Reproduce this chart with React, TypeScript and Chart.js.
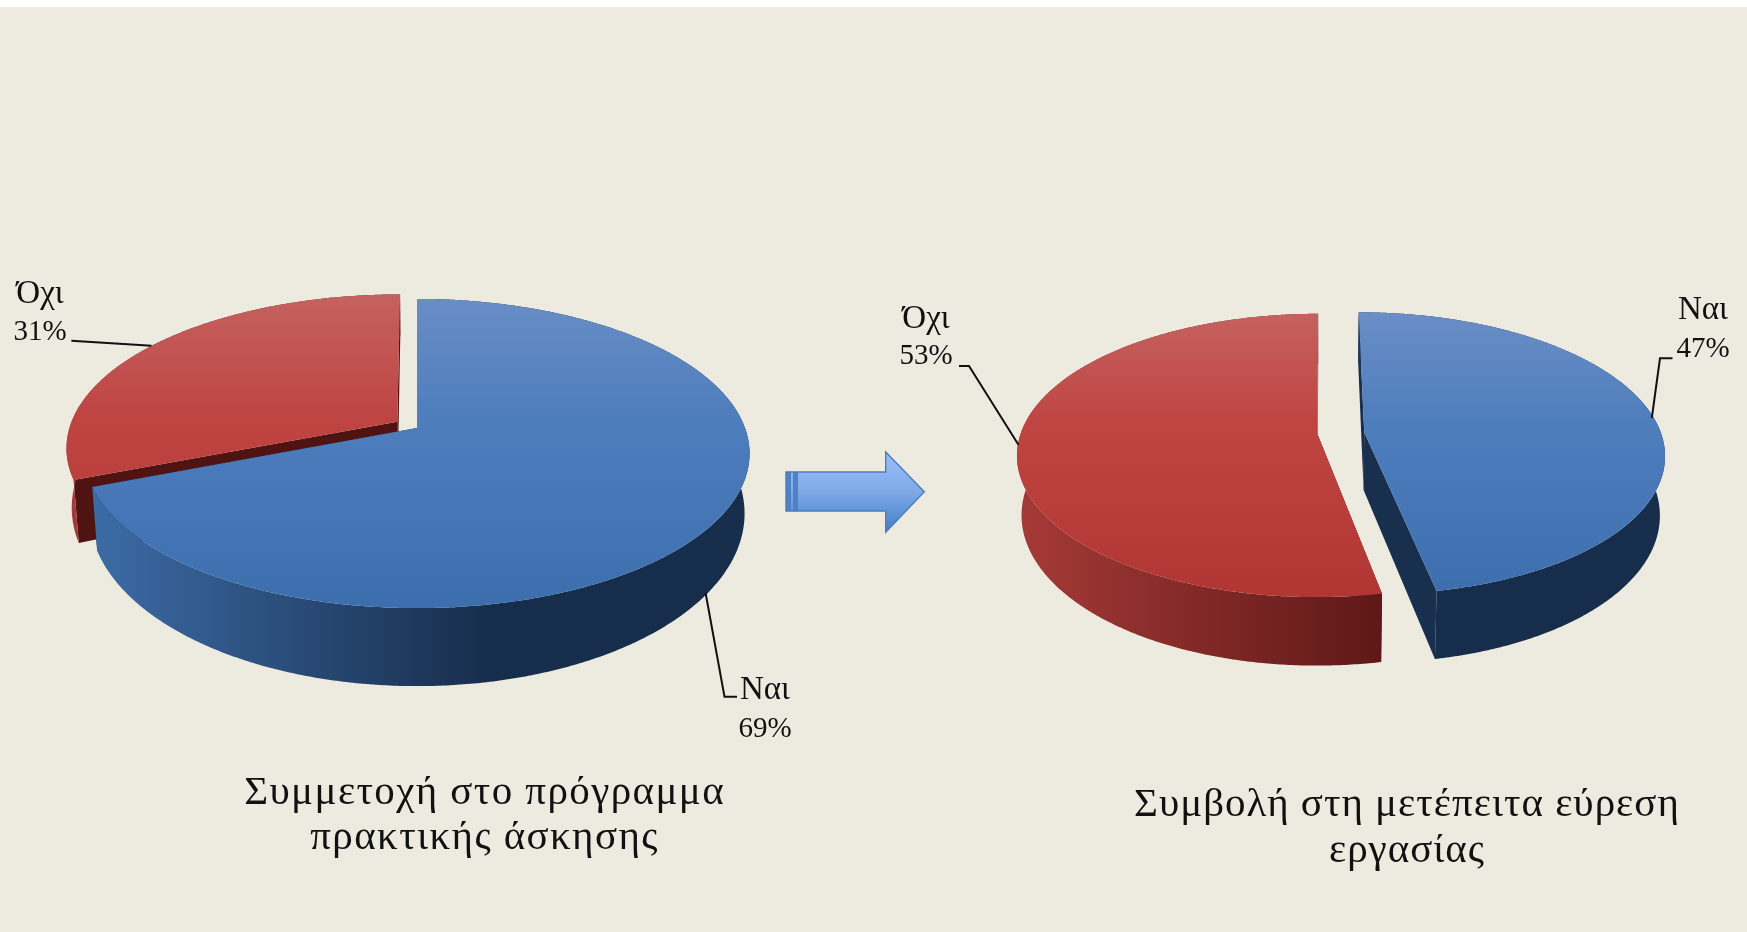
import React, { useEffect, useRef } from "react";
import { Chart, registerables } from "chart.js";

Chart.register(...registerables);

const categories = ["Ναι", "Όχι"];
const participationValues = [69, 31];
const contributionValues = [47, 53];
const participationTitle = ["Συμμετοχή στο πρόγραμμα", "πρακτικής άσκησης"];
const contributionTitle = ["Συμβολή στη μετέπειτα εύρεση", "εργασίας"];

const W = 1747;
const H = 932;
const FONT = '"Liberation Serif", serif';
const BG = "#EDEBE0";

type Pie3D = {
  vpx: number; y0: number; squash: number; p: number;
  y1: number; squashB: number; sB: number;
  radius: number; offset: number[];
  xRange: number[]; yRange: number[];
  title: string[]; titleX: number; titleY: number[]; titleSize: number; titleSpacing: number;
  labels: { x: number; y: number[] }[];
  leaders: number[][][];
  arrow?: boolean;
};

const leftPie: Pie3D = {
  vpx: 417, y0: 428, squash: 0.4585, p: 0.165,
  y1: 485, squashB: 0.512, sB: 0.985,
  radius: 328, offset: [0, 96],
  xRange: [65, 747], yRange: [295, 608],
  title: participationTitle, titleX: 484.6, titleY: [793, 838], titleSize: 41, titleSpacing: 1.4,
  labels: [{ x: 765, y: [690, 729] }, { x: 40, y: [294, 332] }],
  leaders: [
    [[705.6, 593], [724.5, 696.7], [737, 696.7]],
    [[71.4, 340.7], [151.5, 345.7]],
  ],
  arrow: true,
};

const rightPie: Pie3D = {
  vpx: 1322, y0: 434, squash: 0.466, p: 0.15,
  y1: 492, squashB: 0.496, sB: 0.985,
  radius: 297, offset: [170, 18],
  xRange: [1018, 1664], yRange: [313, 596],
  title: contributionTitle, titleX: 1407, titleY: [805, 851], titleSize: 41, titleSpacing: 1.0,
  labels: [{ x: 1703, y: [310, 349] }, { x: 926, y: [319, 356.5] }],
  leaders: [
    [[1672.5, 358.3], [1660, 358.3], [1651.8, 418]],
    [[959, 366], [969, 366], [1018.6, 445]],
  ],
};

const topColors = [
  ["#6A8EC6", "#4F7EBD", "#3C6EAE"],
  ["#C5625F", "#BF4543", "#B13633"],
];
const sideColors = [
  ["#3F70AC", "#172D4C"],
  ["#A53A37", "#571514"],
];
const cutColors = ["#182F4E", "#4F1412"];

function drawArrow(ctx: CanvasRenderingContext2D) {
  const g = ctx.createLinearGradient(0, 452, 0, 532);
  g.addColorStop(0, "#9BC0FB");
  g.addColorStop(0.5, "#7FA9E8");
  g.addColorStop(1, "#437FC4");
  ctx.beginPath();
  ctx.moveTo(786, 472);
  ctx.lineTo(885.7, 472);
  ctx.lineTo(885.7, 452);
  ctx.lineTo(924.3, 491.7);
  ctx.lineTo(885.7, 532.3);
  ctx.lineTo(885.7, 511);
  ctx.lineTo(786, 511);
  ctx.closePath();
  ctx.fillStyle = g;
  ctx.fill();
  ctx.fillStyle = "#4F81C4";
  ctx.fillRect(786, 472, 5, 39);
  ctx.fillRect(793, 472, 5, 39);
  ctx.strokeStyle = "#4A7EBE";
  ctx.lineWidth = 1.4;
  ctx.stroke();
}

const pie3dPlugin = {
  id: "pie3d",
  beforeDatasetsDraw(chart: any, _args: any, opts: any) {
    const cfg: Pie3D = opts.cfg;
    const ctx: CanvasRenderingContext2D = chart.ctx;
    const arcs = chart.getDatasetMeta(0).data;

    const top = (dx: number, dy: number) => {
      const w = 1 - (cfg.p * dy) / cfg.radius;
      return [cfg.vpx + dx / w, cfg.y0 + (dy * cfg.squash) / w];
    };
    const bottom = (dx: number, dy: number) => {
      const w = 1 - (cfg.p * dy) / cfg.radius;
      return [cfg.vpx + (cfg.sB * dx) / w, cfg.y1 + (dy * cfg.squashB) / w];
    };
    const poly = (pts: number[][], fill: any) => {
      ctx.beginPath();
      pts.forEach((q, i) => (i ? ctx.lineTo(q[0], q[1]) : ctx.moveTo(q[0], q[1])));
      ctx.closePath();
      ctx.fillStyle = fill;
      ctx.fill();
    };

    // far slice first: later slices sit in front
    const order = cfg.arrow ? [1, 0] : [0, 1];
    ctx.save();
    order.forEach((i: number) => {
      const arc = arcs[i];
      const { x, y, startAngle, endAngle, outerRadius } = arc.getProps([
        "x", "y", "startAngle", "endAngle", "outerRadius",
      ]);
      const mid = (startAngle + endAngle) / 2;
      const off = (arc.options.offset || 0) / 4;
      const ox = x + Math.cos(mid) * off - chart.width / 2;
      const oy = y + Math.sin(mid) * off - chart.height / 2;
      const steps = Math.ceil(((endAngle - startAngle) * 180) / Math.PI) * 2;
      const rimT: number[][] = [];
      const rimB: number[][] = [];
      for (let k = 0; k <= steps; k++) {
        const a = startAngle + ((endAngle - startAngle) * k) / steps;
        const dx = ox + Math.cos(a) * outerRadius;
        const dy = oy + Math.sin(a) * outerRadius;
        rimT.push(top(dx, dy));
        rimB.push(bottom(dx, dy));
      }
      const apexT = top(ox, oy);
      const apexB = bottom(ox, oy);

      // cut faces
      poly([apexT, rimT[0], rimB[0], apexB], cutColors[i]);
      poly([apexT, rimT[steps], rimB[steps], apexB], cutColors[i]);

      // outer wall
      const sg = ctx.createLinearGradient(cfg.xRange[0], 0, cfg.xRange[1], 0);
      sg.addColorStop(0, sideColors[i][0]);
      sg.addColorStop(0.62, sideColors[i][1]);
      sg.addColorStop(1, sideColors[i][1]);
      poly([...rimT, ...rimB.slice().reverse()], sg);

      // top face
      const tg = ctx.createLinearGradient(0, cfg.yRange[0], 0, cfg.yRange[1]);
      tg.addColorStop(0, topColors[i][0]);
      tg.addColorStop(0.38, topColors[i][1]);
      tg.addColorStop(1, topColors[i][2]);
      poly([apexT, ...rimT], tg);
    });

    // leader lines
    ctx.strokeStyle = "#111";
    ctx.lineWidth = 2;
    cfg.leaders.forEach((line) => {
      ctx.beginPath();
      line.forEach((q, k) => (k ? ctx.lineTo(q[0], q[1]) : ctx.moveTo(q[0], q[1])));
      ctx.stroke();
    });

    // slice labels
    const labels: string[] = chart.data.labels;
    const values: number[] = chart.data.datasets[0].data;
    ctx.fillStyle = "#111";
    ctx.textAlign = "center";
    ctx.textBaseline = "middle";
    labels.forEach((name, i) => {
      ctx.font = `33px ${FONT}`;
      ctx.fillText(name, cfg.labels[i].x, cfg.labels[i].y[0]);
      ctx.font = `29px ${FONT}`;
      ctx.fillText(`${values[i]}%`, cfg.labels[i].x, cfg.labels[i].y[1]);
    });

    // caption
    ctx.font = `${cfg.titleSize}px ${FONT}`;
    (ctx as any).letterSpacing = `${cfg.titleSpacing}px`;
    cfg.title.forEach((t, i) => ctx.fillText(t, cfg.titleX, cfg.titleY[i]));
    (ctx as any).letterSpacing = "0px";

    if (cfg.arrow) drawArrow(ctx);
    ctx.restore();
    return false;
  },
};

function PieCanvas({ values, cfg }: { values: number[]; cfg: Pie3D }) {
  const ref = useRef<HTMLCanvasElement>(null);
  useEffect(() => {
    const chart = new Chart(ref.current as HTMLCanvasElement, {
      type: "pie",
      data: {
        labels: categories,
        datasets: [{
          data: values,
          backgroundColor: [topColors[0][1], topColors[1][1]],
          borderWidth: 0,
          offset: cfg.offset,
        } as any],
      },
      options: {
        animation: false,
        responsive: false,
        radius: cfg.radius,
        rotation: 0,
        events: [],
        layout: { padding: 0 },
        plugins: {
          legend: { display: false },
          tooltip: { enabled: false },
          pie3d: { cfg },
        } as any,
      } as any,
      plugins: [pie3dPlugin as any],
    });
    return () => chart.destroy();
  }, [values, cfg]);
  return (
    <canvas
      ref={ref}
      width={W}
      height={H}
      style={{ position: "absolute", left: 0, top: 0, width: W, height: H }}
    />
  );
}

export default function App() {
  return (
    <div style={{ position: "fixed", left: 0, top: 0, width: W, height: H, background: "#fff", overflow: "hidden" }}>
      <div style={{ position: "absolute", left: 0, top: 7, width: W, height: H - 7, background: BG }} />
      <PieCanvas values={participationValues} cfg={leftPie} />
      <PieCanvas values={contributionValues} cfg={rightPie} />
    </div>
  );
}
